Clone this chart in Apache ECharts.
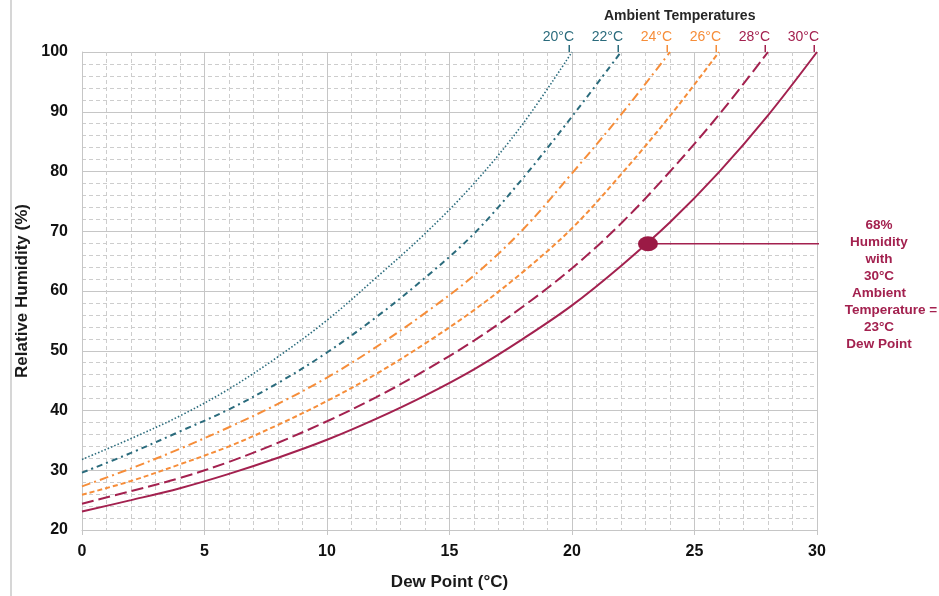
<!DOCTYPE html>
<html>
<head>
<meta charset="utf-8">
<script src="https://cdn.jsdelivr.net/npm/echarts/dist/echarts.min.js"></script>
<style>
  html, body { margin: 0; padding: 0; background: #ffffff; }
  #main { width: 939px; height: 596px; }
</style>
</head>
<body>
<div id="main"></div>
<script>
// dew point (°C) at every 2 degrees
var dewPoints = [0, 2, 4, 6, 8, 10, 12, 14, 16, 18, 20, 22, 24, 26, 28, 30];

// relative humidity (%) per ambient temperature
var rh20 = [31.8, 35.3, 39.1, 43.6, 49.0, 55.1, 62.2, 69.6, 78.0, 88.0, 100];
var rh22 = [29.6, 32.9, 36.5, 40.2, 44.6, 49.7, 55.6, 62.2, 69.6, 78.9, 89.2, 100];
var rh24 = [27.3, 30.3, 33.6, 37.2, 41.1, 45.5, 50.6, 56.3, 62.6, 70.3, 79.7, 89.5, 100];
var rh26 = [25.9, 28.2, 31.0, 34.0, 37.6, 41.6, 46.1, 51.2, 56.8, 63.2, 70.5, 79.5, 89.3, 100];
var rh28 = [24.4, 26.5, 28.7, 31.4, 34.6, 38.2, 42.2, 46.7, 51.7, 57.4, 63.8, 71.3, 80.0, 89.5, 100];
var rh30 = [23.1, 25.0, 27.0, 29.4, 32.1, 35.1, 38.6, 42.5, 46.9, 52.0, 57.6, 64.2, 71.5, 79.9, 89.4, 100];

var tempLabels = ['20°C', '22°C', '24°C', '26°C', '28°C', '30°C'];

// highlighted point: 30°C ambient, 23°C dew point
var markDew = [23.1, 31.06];
var markRh = 67.9;
var noteLines = ['68%', 'Humidity', 'with', '30°C', 'Ambient', 'Temperature =', '23°C', 'Dew Point'];

var FONT = 'Liberation Sans, Arial, sans-serif';
var TEAL = '#2a6b7c';
var ORANGE = '#f68d39';
var CRIMSON = '#a3214f';

var curves = [
  { rh: rh20, color: TEAL, width: 1.6, dash: [1.5, 2] },
  { rh: rh22, color: TEAL, width: 2, dash: [6, 4, 2, 4] },
  { rh: rh24, color: ORANGE, width: 2, dash: [9, 4, 2, 4] },
  { rh: rh26, color: ORANGE, width: 2, dash: [5, 3] },
  { rh: rh28, color: CRIMSON, width: 2, dash: [12, 5] },
  { rh: rh30, color: CRIMSON, width: 2, dash: 'solid' }
];

var series = curves.map(function (c, k) {
  var last = c.rh.length - 1;
  return {
    type: 'line',
    name: tempLabels[k],
    smooth: 0.35,
    symbol: 'circle',
    symbolSize: 0,
    showSymbol: true,
    silent: true,
    z: 3,
    lineStyle: { color: c.color, width: c.width, type: c.dash },
    itemStyle: { color: c.color },
    data: c.rh.map(function (v, i) {
      var item = { value: [dewPoints[i], v] };
      if (i === last) {
        item.label = {
          show: true,
          position: 'top',
          distance: 0,
          align: 'right',
          offset: [2, 0],
          formatter: '{t|' + tempLabels[k] + '}\n{l| }{s| }',
          rich: {
            t: { color: c.color, fontSize: 14, fontFamily: FONT, lineHeight: 16, align: 'right' },
            l: { width: 1.5, height: 7, lineHeight: 7, backgroundColor: c.color, align: 'right' },
            s: { width: 4, height: 7, lineHeight: 7, align: 'right' }
          }
        };
      }
      return item;
    })
  };
});

// pointer line + dot
series.push({
  type: 'line',
  silent: true,
  clip: false,
  symbol: 'none',
  z: 4,
  lineStyle: { color: CRIMSON, width: 1.5 },
  data: markDew.map(function (d) { return [d, markRh]; })
});
series.push({
  type: 'scatter',
  silent: true,
  z: 5,
  symbol: 'circle',
  symbolSize: [20, 15],
  itemStyle: { color: '#9b1a45', opacity: 1 },
  data: [[markDew[0], markRh]]
});

// annotation text, one line per text element
var noteText = noteLines.map(function (s, i) {
  return {
    type: 'text',
    silent: true,
    x: s.indexOf('=') > 0 ? 891 : 879,
    y: 218 + i * 17,
    style: {
      text: s,
      fontFamily: FONT,
      fontSize: 13.5,
      fontWeight: 'bold',
      align: 'center',
      fill: CRIMSON
    }
  };
});

var gridColor = '#c6c6c6';

var option = {
  backgroundColor: '#ffffff',
  animation: false,
  grid: { left: 82, right: 122, top: 52, bottom: 65 },
  xAxis: {
    type: 'value',
    min: 0,
    max: 30,
    interval: 5,
    name: 'Dew Point (°C)',
    nameLocation: 'middle',
    nameGap: 44,
    nameTextStyle: { fontFamily: FONT, fontSize: 17, fontWeight: 'bold', color: '#1a1a1a' },
    axisLine: { show: true, lineStyle: { color: gridColor } },
    axisTick: { show: true, length: 5, lineStyle: { color: gridColor } },
    axisLabel: { margin: 14, fontFamily: FONT, fontSize: 16, fontWeight: 'bold', color: '#111' },
    splitLine: { show: true, lineStyle: { color: gridColor, width: 1 } },
    minorTick: { show: false, splitNumber: 5 },
    minorSplitLine: { show: true, lineStyle: { color: '#cdcdcd', width: 1, type: [4, 3] } }
  },
  yAxis: {
    type: 'value',
    min: 20,
    max: 100,
    interval: 10,
    name: 'Relative Humidity (%)',
    nameLocation: 'middle',
    nameGap: 38,
    nameRotate: 90,
    nameTextStyle: { fontFamily: FONT, fontSize: 17, fontWeight: 'bold', color: '#1a1a1a' },
    axisLine: { show: true, lineStyle: { color: gridColor } },
    axisTick: { show: false },
    axisLabel: { margin: 14, fontFamily: FONT, fontSize: 16, fontWeight: 'bold', color: '#111' },
    splitLine: { show: true, lineStyle: { color: gridColor, width: 1 } },
    minorTick: { show: false, splitNumber: 5 },
    minorSplitLine: { show: true, lineStyle: { color: '#cdcdcd', width: 1, type: [4, 3] } }
  },
  graphic: [
    {
      type: 'line',
      silent: true,
      shape: { x1: 11, y1: 0, x2: 11, y2: 596 },
      style: { stroke: '#d6d6d6', lineWidth: 2 }
    },
    {
      type: 'text',
      left: 604,
      top: 9,
      style: { text: 'Ambient Temperatures', fontFamily: FONT, fontSize: 14, fontWeight: 'bold', fill: '#262626' }
    }
  ].concat(noteText),
  series: series
};

var chart = echarts.init(document.getElementById('main'), null, { renderer: 'canvas' });
chart.setOption(option);
</script>
</body>
</html>
